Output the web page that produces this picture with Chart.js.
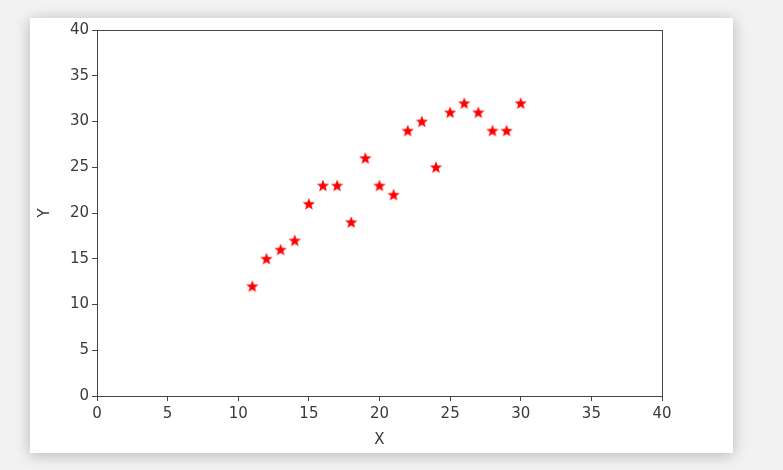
<!DOCTYPE html>
<html>
<head>
<meta charset="utf-8">
<script src="https://cdn.jsdelivr.net/npm/chart.js@4"></script>
<style>
  body { margin: 0; background: #f2f2f2; width: 783px; height: 470px; overflow: hidden; position: relative; }
  #card { position: absolute; left: 30px; top: 18px; width: 703px; height: 435px; background: #fff;
          box-shadow: 0 2px 14px rgba(0,0,0,0.25); }
  #wrap { position: absolute; left: 0; top: 0; width: 783px; height: 470px; }
</style>
</head>
<body>
<div id="card"></div>
<div id="wrap"><canvas id="chartCanvas" width="783" height="470"></canvas></div>
<script>
const xValues = [11, 12, 13, 14, 15, 16, 17, 18, 19, 20, 21, 22, 23, 24, 25, 26, 27, 28, 29, 30];
const yValues = [12, 15, 16, 17, 21, 23, 23, 19, 26, 23, 22, 29, 30, 25, 31, 32, 31, 29, 29, 32];
const axisMin = 0;
const axisMax = 40;
const tickStep = 5;

// filled star marker like matplotlib's "*"
function makeStar(size, color) {
    const c = document.createElement("canvas");
    c.width = size; c.height = size;
    const g = c.getContext("2d");
    const cx = size / 2, cy = size / 2 + 0.5;
    const outer = size / 2 - 0.5, inner = outer * 0.42;
    g.beginPath();
    for (let i = 0; i < 10; i++) {
        const r = i % 2 === 0 ? outer : inner;
        const a = -Math.PI / 2 + i * Math.PI / 5;
        const px = cx + r * Math.cos(a), py = cy + r * Math.sin(a);
        if (i === 0) g.moveTo(px, py); else g.lineTo(px, py);
    }
    g.closePath();
    g.fillStyle = color;
    g.fill();
    return c;
}

const frame = {
    id: "frame",
    afterDraw(chart) {
        const a = chart.chartArea, ctx = chart.ctx;
        ctx.save();
        ctx.strokeStyle = "#444";
        ctx.lineWidth = 1;
        ctx.strokeRect(Math.round(a.left) + 0.5, Math.round(a.top) + 0.5,
            Math.round(a.right - a.left), Math.round(a.bottom - a.top));
        ctx.restore();
    }
};

const font = { family: "DejaVu Sans", size: 15 };

new Chart(document.getElementById("chartCanvas"), {
    type: "scatter",
    data: {
        datasets: [{
            data: xValues.map((x, i) => ({ x: x, y: yValues[i] })),
            pointStyle: makeStar(14, "#ff0000"),
            pointRadius: 7
        }]
    },
    options: {
        responsive: false,
        animation: false,
        layout: { padding: { left: 32, top: 30, right: 121, bottom: 17 } },
        plugins: { legend: { display: false }, tooltip: { enabled: false } },
        scales: {
            x: {
                min: axisMin, max: axisMax,
                ticks: { stepSize: tickStep, color: "#3a3a3a", font: font, padding: 4 },
                grid: { drawOnChartArea: false, tickLength: 5, color: "#444" },
                border: { color: "#444" },
                title: { display: true, text: "X", color: "#3a3a3a", font: font },
                afterFit(s) { s.height = 57; }
            },
            y: {
                min: axisMin, max: axisMax,
                ticks: { stepSize: tickStep, color: "#3a3a3a", font: font, padding: 3 },
                grid: { drawOnChartArea: false, tickLength: 5, color: "#444" },
                border: { color: "#444" },
                title: { display: true, text: "Y", color: "#3a3a3a", font: font },
                afterFit(s) { s.width = 65; }
            }
        }
    },
    plugins: [frame]
});
</script>
</body>
</html>
